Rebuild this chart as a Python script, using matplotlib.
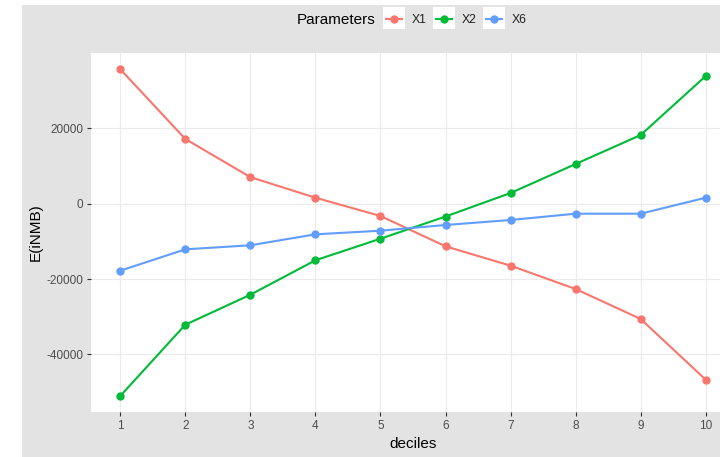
import matplotlib
matplotlib.use("Agg")
import matplotlib.pyplot as plt
from matplotlib.patches import Rectangle
from matplotlib.lines import Line2D

plt.rcParams['font.family'] = ['Liberation Sans', 'DejaVu Sans']
plt.rcParams['axes.unicode_minus'] = False

deciles = [1, 2, 3, 4, 5, 6, 7, 8, 9, 10]
x1 = [35670, 17170, 7050, 1590, -3260, -11300, -16440, -22630, -30580, -46690]
x2 = [-51000, -32100, -24140, -15010, -9280, -3400, 2840, 10530, 18220, 33870]
x6 = [-17770, -12100, -11030, -8120, -7160, -5650, -4320, -2650, -2650, 1590]
series = [("X1", x1, "#F8766D"), ("X2", x2, "#00BA38"), ("X6", x6, "#619CFF")]
yticks = [-40000, -20000, 0, 20000]

W, H = 720, 457
fig = plt.figure(figsize=(W / 100, H / 100), dpi=100)
fig.patch.set_facecolor("white")
# grey plot background (screenshot is cropped a bit on the left/top)
fig.patches.append(Rectangle((22 / W, 0), 1 - 22 / W, (H - 5) / H,
                             transform=fig.transFigure, facecolor="#E3E3E3",
                             edgecolor="none", zorder=-10))

# panel runs past the right edge of the image
ax = fig.add_axes([91 / W, 1 - 412.3 / H, 644 / W, (412.3 - 52.9) / H])
ax.set_facecolor("white")

for name, vals, col in series:
    ax.plot(deciles, vals, color=col, lw=1.5, marker="o", ms=5, zorder=3)

lo = min(min(v) for _, v, _ in series)
hi = max(max(v) for _, v, _ in series)
pad = (hi - lo) * 0.05
ax.set_ylim(lo - pad, hi + pad)
ax.set_xlim(1 - 0.45, 10 + 0.45)
ax.set_xticks(deciles)
ax.set_yticks(yticks)
ax.grid(True, color="#EBEBEB", lw=0.8, zorder=0)
ax.set_axisbelow(True)
for s in ax.spines.values():
    s.set_visible(False)
ax.tick_params(axis="both", length=2.9, width=0.8, color="#333333",
               labelcolor="#4D4D4D", labelsize=8.5, pad=2.6)

ax.set_xlabel("deciles", fontsize=11, color="black")
ax.xaxis.set_label_coords(0.5, -0.069)
ax.set_ylabel("E(iNMB)", fontsize=11, color="black")
ax.yaxis.set_label_coords(-0.0745, 0.5)

# legend on top, drawn by hand to get ggplot look
fig.text(376 / W, 1 - 20 / H, "Parameters", fontsize=11, ha="right", va="center")
for i, (name, vals, col) in enumerate(series):
    kx = 383 + 50 * i
    fig.patches.append(Rectangle((kx / W, 1 - 29 / H), 22 / W, 22 / H,
                                 transform=fig.transFigure, facecolor="white",
                                 edgecolor="none", zorder=1))
    fig.lines.append(Line2D([(kx + 3) / W, (kx + 19) / W], [1 - 19 / H, 1 - 19 / H],
                            transform=fig.transFigure, color=col, lw=1.5, zorder=2))
    fig.lines.append(Line2D([(kx + 11) / W], [1 - 19 / H], transform=fig.transFigure,
                            color=col, marker="o", ms=5, zorder=2))
    fig.text((kx + 29) / W, 1 - 20 / H, name, fontsize=8.8, ha="left", va="center",
             color="#222222")

fig.savefig("out.png", dpi=100)
